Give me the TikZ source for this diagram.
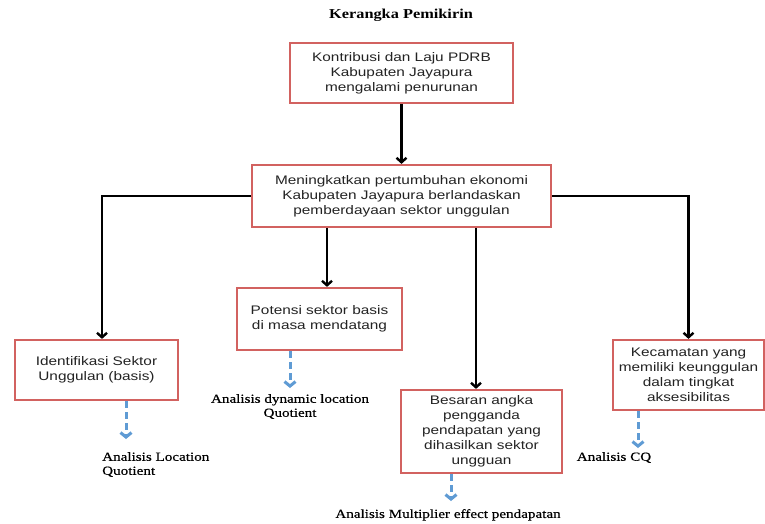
\documentclass[tikz,border=0pt]{standalone}
\usepackage{fontspec}
\usetikzlibrary{arrows.meta,shadows}
\newfontfamily\boxfont[FakeStretch=1.24]{Liberation Sans}
\newfontfamily\labelfont[FakeStretch=1.22,FakeBold=0.4]{Liberation Serif}
\newfontfamily\titlefont[FakeStretch=1.2]{Liberation Serif}
\definecolor{boxred}{RGB}{210,98,96}
\definecolor{dashblue}{RGB}{95,155,212}
\definecolor{boxtext}{RGB}{35,35,35}
\tikzset{
  box/.style={draw=boxred, line width=2.2pt, fill=white, align=center,
    text=boxtext, inner sep=2pt,
    font=\boxfont\fontsize{12.4}{15}\selectfont,
    drop shadow={opacity=0.18, shadow xshift=1.2pt, shadow yshift=-1.2pt}},
  flow/.style={draw=black, line width=2.4pt,
    -{Straight Barb[length=4.5pt,width=10pt,line width=2.4pt]}},
  hint/.style={draw=dashblue, line width=3pt, dash pattern=on 7pt off 4pt,
    -{Straight Barb[length=4.5pt,width=11pt,line width=3pt]}},
  note/.style={inner sep=0pt, text=black,
    font=\labelfont\fontsize{12.4}{14}\selectfont},
}
\begin{document}
\begin{tikzpicture}[x=1pt,y=-1pt]
\useasboundingbox (0,0) rectangle (765,523);
\fill[white] (0,0) rectangle (765,523);

% heading
\node[inner sep=0pt, font=\titlefont\bfseries\fontsize{13.6}{16}\selectfont] (title) at (401,15) {Kerangka Pemikirin};

% main boxes
\node[box, minimum width=223pt, minimum height=60pt] (b1) at (401.5,73)
  {Kontribusi dan Laju PDRB\\Kabupaten Jayapura\\mengalami penurunan};
\node[box, minimum width=299pt, minimum height=62pt] (b2) at (401.5,196)
  {Meningkatkan pertumbuhan ekonomi\\Kabupaten Jayapura berlandaskan\\pemberdayaan sektor unggulan};
\node[box, minimum width=163pt, minimum height=60pt] (b3) at (96.5,370)
  {Identifikasi Sektor\\Unggulan (basis)};
\node[box, minimum width=165pt, minimum height=62pt] (b4) at (319.5,319)
  {Potensi sektor basis\\di masa mendatang};
\node[box, minimum width=161pt, minimum height=83pt] (b5) at (481.5,431.5)
  {Besaran angka\\pengganda\\pendapatan yang\\dihasilkan sektor\\ungguan};
\node[box, minimum width=151pt, minimum height=70pt] (b6) at (688.5,375)
  {Kecamatan yang\\memiliki keunggulan\\dalam tingkat\\aksesibilitas};

% analysis notes
\node[note, anchor=north west, align=left] (l3) at (102,452)
  {Analisis Location\\Quotient};
\node[note, anchor=north, align=center] (l4) at (290,394)
  {Analisis dynamic location\\Quotient};
\node[note, anchor=north] (l5) at (448,509)
  {Analisis Multiplier effect pendapatan};
\node[note, anchor=north] (l6) at (614,452)
  {Analisis CQ};

% x positions of the vertical runs
\coordinate (xl) at (102,0);
\coordinate (xa) at (327,0);
\coordinate (xb) at (476,0);
\coordinate (d3) at (126,0);
\coordinate (d4) at (290,0);
\coordinate (d5) at (451,0);
\coordinate (d6) at (638,0);

% solid flow
\draw[flow] (b1) -- (b2);
\draw[flow] (b2.west) -| (b3.north -| xl);
\draw[flow] (b2.east) -| (b6.north);
\draw[flow] (b2.south -| xa) -- (b4.north -| xa);
\draw[flow] (b2.south -| xb) -- (b5.north -| xb);

% dashed links to the analyses
\draw[hint, shorten >=13pt] (b3.south -| d3) -- (l3.north -| d3);
\draw[hint, shorten >=6pt] (b4.south -| d4) -- (l4.north -| d4);
\draw[hint, shorten >=8pt] (b5.south -| d5) -- (l5.north -| d5);
\draw[hint, shorten >=4pt] (b6.south -| d6) -- (l6.north -| d6);
\end{tikzpicture}
\end{document}
